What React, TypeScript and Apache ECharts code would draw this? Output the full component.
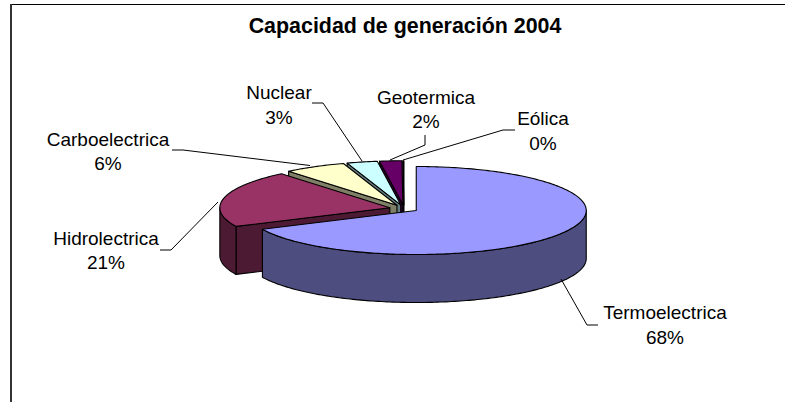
import React, { useEffect, useRef } from "react";
import * as echarts from "echarts";

const titleText = "Capacidad de generación 2004";
const categories = ["Termoelectrica", "Hidrolectrica", "Carboelectrica", "Nuclear", "Geotermica", "Eólica"];
const shares = [68, 21, 5.9, 2.9, 2.1, 0.1];
const topColors = ["#9999FF", "#993366", "#FFFFCC", "#CCFFFF", "#660066", "#FF8080"];
const wallColors = ["#4D4D80", "#4D1A33", "#808066", "#668080", "#330033", "#804040"];

// Layout of each label: centre x, first line y, second line y, leader line points
const labelLayouts = [
  { x: 665, y1: 312, y2: 337, leader: [[561, 279], [587, 325], [598, 325]] },
  { x: 106, y1: 238, y2: 262, leader: [[218, 202], [171, 250], [160, 250]] },
  { x: 108, y1: 139, y2: 163, leader: [[310, 165.5], [183, 150], [172, 150]] },
  { x: 279, y1: 92, y2: 117, leader: [[362, 161], [323, 103], [312, 103]] },
  { x: 426, y1: 97, y2: 121, leader: [[390, 160], [425, 145], [425, 135]] },
  { x: 543, y1: 118.5, y2: 143, leader: [[403, 160], [503, 130], [515, 130]] },
];

const CX = 404;
const CY = 208.5;
const RX = 170;
const RY = 44;
const DEPTH = 48;
const EXPLODE = 14.5;
const FONT = "Arial, 'Liberation Sans', sans-serif";
const LABEL_SIZE = 19;
const TITLE_SIZE = 21.4;

const total = shares.reduce((a, b) => a + b, 0);

function rim(cx: number, cy: number, deg: number): number[] {
  const r = (deg * Math.PI) / 180;
  return [cx + RX * Math.sin(r), cy - RY * Math.cos(r)];
}

function arcPts(cx: number, cy: number, a0: number, a1: number): number[][] {
  const n = Math.max(2, Math.ceil(Math.abs(a1 - a0)));
  const out: number[][] = [];
  for (let i = 0; i <= n; i++) out.push(rim(cx, cy, a0 + ((a1 - a0) * i) / n));
  return out;
}

function renderSlice(params: any, api: any) {
  const index = api.value(0) as number;
  const value = api.value(1) as number;
  const a0 = api.value(2) as number;
  const a1 = a0 + (value / total) * 360;
  const mid = ((a0 + a1) / 2) * (Math.PI / 180);
  const cx = CX + EXPLODE * Math.sin(mid);
  const cy = CY - EXPLODE * Math.cos(mid) * (RY / RX);
  const lineStyle = { stroke: "#000", lineWidth: 1.1, lineJoin: "round" };
  const children: any[] = [];
  const wall = { fill: wallColors[index], ...lineStyle };

  if (a0 > 180 && a0 < 360) {
    const p = rim(cx, cy, a0);
    children.push({
      type: "polygon",
      shape: { points: [[cx, cy], p, [p[0], p[1] + DEPTH], [cx, cy + DEPTH]] },
      style: wall,
    });
  }
  const f0 = Math.max(a0, 90);
  const f1 = Math.min(a1, 270);
  if (f1 > f0) {
    const upper = arcPts(cx, cy, f0, f1);
    const lower = upper.map((p) => [p[0], p[1] + DEPTH]).reverse();
    children.push({ type: "polygon", shape: { points: [...upper, ...lower] }, style: wall });
  }
  children.push({
    type: "polygon",
    shape: { points: [[cx, cy], ...arcPts(cx, cy, a0, a1)] },
    style: { fill: topColors[index], ...lineStyle },
  });

  const layout = labelLayouts[index];
  children.push({
    type: "polyline",
    shape: { points: layout.leader },
    style: { fill: "none", stroke: "#000", lineWidth: 1 },
  });
  const textStyle = { fill: "#000", font: `${LABEL_SIZE}px ${FONT}`, textAlign: "center", textVerticalAlign: "middle" };
  children.push({ type: "text", style: { text: categories[index], x: layout.x, y: layout.y1, ...textStyle } });
  children.push({
    type: "text",
    style: { text: `${Math.round((value / total) * 100)}%`, x: layout.x, y: layout.y2, ...textStyle },
  });
  return { type: "group", children };
}

export default function App() {
  const ref = useRef<HTMLDivElement>(null);
  useEffect(() => {
    const chart = echarts.init(ref.current!, null, { renderer: "svg" });
    let start = 0;
    const rows = shares.map((v, i) => {
      const row = [i, v, start];
      start += (v / total) * 360;
      return row;
    });
    chart.setOption({
      animation: false,
      backgroundColor: "#fff",
      title: {
        text: titleText,
        left: 400,
        top: 10,
        textAlign: "center",
        textStyle: { fontFamily: FONT, fontSize: TITLE_SIZE, fontWeight: "bold", color: "#000" },
      },
      graphic: [
        { type: "line", shape: { x1: 10, y1: 4.5, x2: 785, y2: 4.5 }, style: { stroke: "#000", lineWidth: 1 } },
        { type: "line", shape: { x1: 11, y1: 4, x2: 11, y2: 402 }, style: { stroke: "#333", lineWidth: 2 } },
      ],
      series: [
        {
          type: "custom",
          coordinateSystem: "none",
          renderItem: renderSlice,
          data: rows.slice().reverse(),
          silent: true,
        },
      ],
    });
    return () => chart.dispose();
  }, []);
  return <div ref={ref} style={{ position: "fixed", left: 0, top: 0, width: 785, height: 402 }} />;
}
